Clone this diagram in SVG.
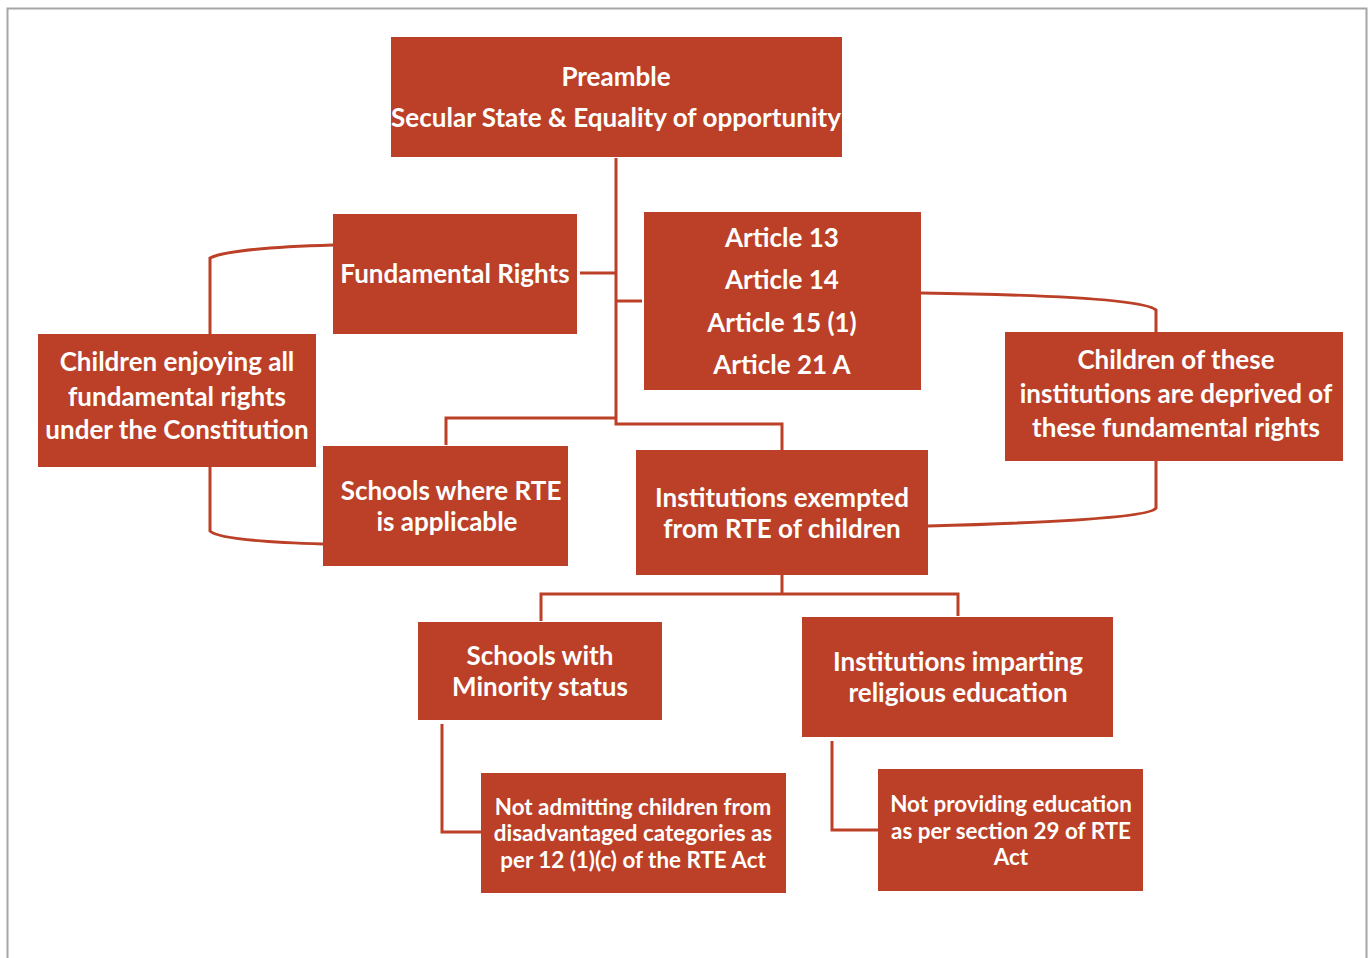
<svg xmlns="http://www.w3.org/2000/svg" width="1371" height="958" viewBox="0 0 1371 958">
<style>
.box{fill:#BB4027;}
.t{font-family:Lato,"Open Sans","Liberation Sans",sans-serif;font-weight:700;fill:#ffffff;text-anchor:middle;dominant-baseline:central;font-size:26px;}
.s{font-size:22.4px;}
.c{fill:none;stroke:#BB4027;stroke-width:3;}
</style>
<rect x="0" y="0" width="1371" height="958" fill="#ffffff"/>
<path d="M7.5,960 V8.5 H1366.5 V960" fill="none" stroke="#a6a6a6" stroke-width="2"/>
<g id="connectors">
<path class="c" d="M616,158 V424 H782 V450"/>
<path class="c" d="M580,273 H616"/>
<path class="c" d="M616,301 H642"/>
<path class="c" d="M616,418 H446 V445"/>
<path class="c" d="M333,245 Q230,248 210,258 V334"/>
<path class="c" d="M210,467 V531 Q220,541 323,544"/>
<path class="c" d="M921,293 Q1140,296 1156,310 V332"/>
<path class="c" d="M1156,461 V508 Q1150,520 928,526"/>
<path class="c" d="M782,575 V594"/>
<path class="c" d="M541,621 V594 H958 V616"/>
<path class="c" d="M442,724 V832 H481"/>
<path class="c" d="M832,741 V830 H878"/>
</g>
<g id="preamble">
<rect class="box" x="391" y="37" width="451" height="120"/>
<text class="t" x="616" y="76">Preamble</text>
<text class="t" x="616" y="117" textLength="450" lengthAdjust="spacingAndGlyphs">Secular State &amp; Equality of opportunity</text>
</g>
<g id="fundamental-rights">
<rect class="box" x="333" y="214" width="244" height="120"/>
<text class="t" x="455" y="273">Fundamental Rights</text>
</g>
<g id="articles">
<rect class="box" x="644" y="212" width="277" height="178"/>
<text class="t" x="782" y="237">Article 13</text>
<text class="t" x="782" y="279">Article 14</text>
<text class="t" x="782" y="322">Article 15 (1)</text>
<text class="t" x="782" y="364">Article 21 A</text>
</g>
<g id="children-enjoying">
<rect class="box" x="38" y="334" width="278" height="133"/>
<text class="t" x="177" y="361">Children enjoying all</text>
<text class="t" x="177" y="396">fundamental rights</text>
<text class="t" x="177" y="429">under the Constitution</text>
</g>
<g id="schools-rte">
<rect class="box" x="323" y="446" width="245" height="120"/>
<text class="t" x="451" y="490">Schools where RTE</text>
<text class="t" x="447" y="521">is applicable</text>
</g>
<g id="institutions-exempted">
<rect class="box" x="636" y="450" width="292" height="125"/>
<text class="t" x="782" y="497">Institutions exempted</text>
<text class="t" x="782" y="528">from RTE of children</text>
</g>
<g id="children-deprived">
<rect class="box" x="1005" y="332" width="338" height="129"/>
<text class="t" x="1176" y="359">Children of these</text>
<text class="t" x="1176" y="393">institutions are deprived of</text>
<text class="t" x="1176" y="427">these fundamental rights</text>
</g>
<g id="schools-minority">
<rect class="box" x="418" y="622" width="244" height="98"/>
<text class="t" x="540" y="655">Schools with</text>
<text class="t" x="540" y="686">Minority status</text>
</g>
<g id="institutions-religious">
<rect class="box" x="802" y="617" width="311" height="120"/>
<text class="t" x="958" y="661">Institutions imparting</text>
<text class="t" x="958" y="692">religious education</text>
</g>
<g id="not-admitting">
<rect class="box" x="481" y="773" width="305" height="120"/>
<text class="t s" x="633" y="806">Not admitting children from</text>
<text class="t s" x="633" y="832">disadvantaged categories as</text>
<text class="t s" x="633" y="859">per 12 (1)(c) of the RTE Act</text>
</g>
<g id="not-providing">
<rect class="box" x="878" y="769" width="265" height="122"/>
<text class="t s" x="1011" y="803">Not providing education</text>
<text class="t s" x="1011" y="830">as per section 29 of RTE</text>
<text class="t s" x="1011" y="856">Act</text>
</g>
</svg>
